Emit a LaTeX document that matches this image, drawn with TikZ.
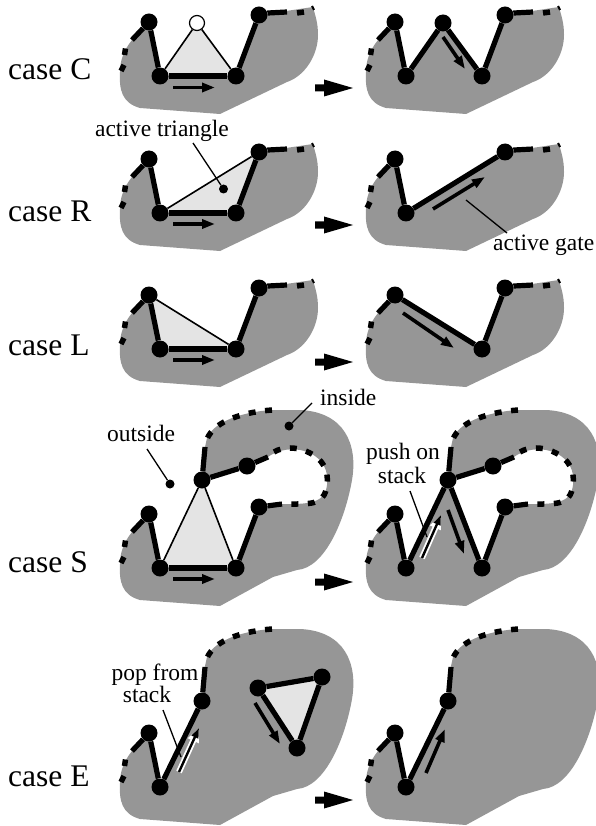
\documentclass[tikz,border=0pt]{standalone}
\usepackage{fontspec}
\setmainfont{Liberation Serif}
\usetikzlibrary{arrows.meta}
\definecolor{body}{HTML}{969696}
\definecolor{active}{HTML}{E4E4E4}
\tikzset{
  vert/.style={circle,fill=black,inner sep=0pt,minimum size=17pt},
  opent/.style={circle,draw=black,fill=white,line width=1.2pt,inner sep=0pt,minimum size=15pt},
  dotn/.style={circle,fill=black,inner sep=0pt,minimum size=9pt},
  edge/.style={line width=5.2pt},
  thinedge/.style={line width=1.6pt},
  bound/.style={line width=5.5pt},
  gate/.style={line width=3.6pt,-{Triangle[length=13pt,width=9pt]}},
  stackarrow/.style={line width=6pt,white,-{Triangle[length=14pt,width=11pt]}},
  leader/.style={line width=1.3pt},
  caselab/.style={anchor=base west,font=\fontsize{31.5}{32}\selectfont,inner sep=0pt},
  lab/.style={font=\fontsize{23.5}{25}\selectfont,inner sep=0pt},
}
% grey region helpers, in the local frame of a panel
\newcommand{\leftpart}{(149,22) -- (132,40) .. controls (124,50) and (120,60) .. (120,72) .. controls (119,90) and (122,103) .. (140,108) -- (220,114)}
\newcommand{\smallblob}[1]{\fill[body] \leftpart -- (287,82) .. controls (305,76) and (318,55) .. (318,35) .. controls (318,22) and (315,15) .. (313,7) -- (259,15) -- #1 -- cycle;}
\newcommand{\bigouter}{\leftpart -- (273,85) -- (297,78) .. controls (325,76) and (345,28) .. (352,-12) .. controls (358,-47) and (345,-80) .. (300,-82) -- (271,-82) .. controls (245,-80) and (215,-72) .. (207,-54) -- (205,-45)}
\newcommand{\holepath}{(268,-35) .. controls (280,-44) and (300,-46) .. (315,-36) .. controls (325,-29) and (330,-17) .. (326,-2) .. controls (322,13) and (300,12) .. (282,12)}
\newcommand{\basepts}{%
  \node[vert] (TL) at (149,22) {};
  \coordinate (Lend) at (132,40);
  \draw[edge] (TL) -- (Lend);
  \draw[bound] (125.5,48.5) -- (124.5,55) (124,65) -- (121,71);
}
\newcommand{\toppts}{%
  \node[vert] (TR) at (259,15) {};
  \coordinate (Tend) at (287,12);
  \draw[edge] (TR) -- (268,13) -- (Tend);
  \draw[bound] (297,13) -- (304,12);
  \draw[line width=2pt] (312,6) -- (314,10);
}
\newcommand{\bigdash}{%
  \draw[bound,dash pattern=on 7pt off 9.5pt] (272,-82) .. controls (245,-80) and (215,-72) .. (207,-53);
}
\newcommand{\holedash}{%
  \node[vert] (TR) at (259,15) {};
  \node[vert] (M) at (247,-26) {};
  \coordinate (Hs) at (268,-35);
  \coordinate (He) at (282,12);
  \draw[edge] (M) -- (Hs);
  \draw[edge] (TR) -- (He);
  \draw[bound,dash pattern=on 7pt off 9.5pt] (274,-40) .. controls (284,-46) and (300,-46) .. (315,-36) .. controls (325,-29) and (330,-17) .. (326,-2) .. controls (322,13) and (310,12) .. (285,12);
}
\newcommand{\bigarrow}[1]{\fill (315,#1-3.5) -- (324,#1-3.5) -- (324,#1-8.5) -- (353,#1) -- (324,#1+8.5) -- (324,#1+3.5) -- (315,#1+3.5) -- cycle;}
\begin{document}
\begin{tikzpicture}[x=1pt,y=-1pt]
\useasboundingbox (0,0) rectangle (596,826);

%% case C
\node[caselab] (lc) at (8,80) {case C};
\begin{scope}
  \smallblob{(236,76) -- (160,76)}
  \fill[active] (160,76) -- (236,76) -- (197,23) -- cycle;
  \basepts \toppts
  \node[vert] (A) at (160,76) {};
  \node[vert] (B) at (236,76) {};
  \node[opent] (O) at (197,23) {};
  \draw[thinedge] (A) -- (O) (B) -- (O);
  \draw[edge] (TL) -- (A); \draw[edge] (A) -- (B); \draw[edge] (B) -- (TR);
  \coordinate (g1) at (173,87.5); \coordinate (g2) at (215,87.5);
  \draw[gate] (g1) -- (g2);
\end{scope}
\bigarrow{88}
\begin{scope}[shift={(246,0)}]
  \smallblob{(236,76) -- (197,23) -- (160,76)}
  \basepts \toppts
  \node[vert] (A) at (160,76) {};
  \node[vert] (B) at (236,76) {};
  \node[vert] (O) at (197,23) {};
  \draw[edge] (TL) -- (A); \draw[edge] (A) -- (O); \draw[edge] (O) -- (B); \draw[edge] (B) -- (TR);
  \coordinate (g1) at (197,37); \coordinate (g2) at (219,69);
  \draw[gate] (g1) -- (g2);
\end{scope}

%% case R
\node[caselab] (lr) at (8,222) {case R};
\begin{scope}[shift={(0,137)}]
  \smallblob{(236,76) -- (160,76)}
  \fill[active] (160,76) -- (236,76) -- (259,15) -- cycle;
  \basepts \toppts
  \node[vert] (A) at (160,76) {};
  \node[vert] (B) at (236,76) {};
  \draw[thinedge] (A) -- (TR);
  \draw[edge] (TL) -- (A); \draw[edge] (A) -- (B); \draw[edge] (B) -- (TR);
  \coordinate (g1) at (173,87); \coordinate (g2) at (215,87);
  \draw[gate] (g1) -- (g2);
\end{scope}
\node[lab,anchor=base] (at) at (162,137) {active triangle};
\coordinate (atl) at (193,143);
\node[dotn] (atd) at (223.5,189) {};
\draw[leader] (atl) -- (atd);
\bigarrow{225}
\begin{scope}[shift={(246,137)}]
  \smallblob{(160,76)}
  \basepts \toppts
  \node[vert] (A) at (160,76) {};
  \draw[edge] (TL) -- (A); \draw[edge] (A) -- (TR);
  \coordinate (g1) at (187,72); \coordinate (g2) at (239,40);
  \draw[gate] (g1) -- (g2);
\end{scope}
\node[lab,anchor=base west] (ag) at (493,250) {active gate};
\coordinate (agl) at (466,200); \coordinate (agr) at (507,233);
\draw[leader] (agl) -- (agr);

%% case L
\node[caselab] (ll) at (8,355) {case L};
\begin{scope}[shift={(0,273)}]
  \smallblob{(236,76) -- (160,76)}
  \fill[active] (149,22) -- (160,76) -- (236,76) -- cycle;
  \basepts \toppts
  \node[vert] (A) at (160,76) {};
  \node[vert] (B) at (236,76) {};
  \draw[thinedge] (TL) -- (B);
  \draw[edge] (TL) -- (A); \draw[edge] (A) -- (B); \draw[edge] (B) -- (TR);
  \coordinate (g1) at (173,87); \coordinate (g2) at (215,87);
  \draw[gate] (g1) -- (g2);
\end{scope}
\bigarrow{362}
\begin{scope}[shift={(246,273)}]
  \smallblob{(236,76)}
  \basepts \toppts
  \node[vert] (B) at (236,76) {};
  \draw[edge] (TL) -- (B); \draw[edge] (B) -- (TR);
  \coordinate (g1) at (157,40); \coordinate (g2) at (208,75);
  \draw[gate] (g1) -- (g2);
\end{scope}

%% case S
\node[caselab] (ls) at (8,572) {case S};
\begin{scope}[shift={(0,492)}]
  \fill[body] \bigouter -- (202,-12) -- \holepath -- (259,15) -- (236,76) -- (160,76) -- (149,22) -- cycle;
  \fill[active] (160,76) -- (236,76) -- (202,-12) -- cycle;
  \basepts \bigdash \holedash
  \node[vert] (A) at (160,76) {};
  \node[vert] (B) at (236,76) {};
  \node[vert] (X) at (202,-12) {};
  \coordinate (Xup) at (205,-45);
  \draw[thinedge] (A) -- (X) (B) -- (X);
  \draw[edge] (X) -- (Xup); \draw[edge] (X) -- (M);
  \draw[edge] (TL) -- (A); \draw[edge] (A) -- (B); \draw[edge] (B) -- (TR);
  \coordinate (g1) at (173,87); \coordinate (g2) at (215,87);
  \draw[gate] (g1) -- (g2);
\end{scope}
\node[lab,anchor=base west] (ins) at (320,405) {inside};
\coordinate (insl) at (312,403);
\node[dotn] (insd) at (289,426) {};
\draw[leader] (insl) -- (insd);
\node[lab,anchor=base west] (out) at (107,441) {outside};
\coordinate (outl) at (147,449);
\node[dotn] (outd) at (170,484) {};
\draw[leader] (outl) -- (outd);
\bigarrow{582}
\begin{scope}[shift={(246,492)}]
  \fill[body] \bigouter -- (202,-12) -- \holepath -- (259,15) -- (236,76) -- (202,-12) -- (160,76) -- (149,22) -- cycle;
  \basepts \bigdash \holedash
  \node[vert] (A) at (160,76) {};
  \node[vert] (B) at (236,76) {};
  \node[vert] (X) at (202,-12) {};
  \coordinate (Xup) at (205,-45);
  \draw[edge] (X) -- (Xup); \draw[edge] (X) -- (M);
  \draw[edge] (TL) -- (A); \draw[edge] (A) -- (X); \draw[edge] (X) -- (B); \draw[edge] (B) -- (TR);
  \coordinate (g1) at (202,18); \coordinate (g2) at (218,62);
  \draw[gate] (g1) -- (g2);
  \coordinate (p1) at (176,66); \coordinate (p2) at (195,23);
  \draw[stackarrow] (p1) -- (p2);
  \draw[line width=2.4pt,-{Triangle[length=10pt,width=7pt]}] (p1) -- (p2);
\end{scope}
\node[lab,align=center,anchor=base] (push) at (403,459) {push on};
\node[lab,anchor=base] (push2) at (402,483) {stack};
\coordinate (pl1) at (410,491); \coordinate (pl2) at (427,537);
\draw[leader] (pl1) -- (pl2);

%% case E
\node[caselab] (le) at (8,786) {case E};
\begin{scope}[shift={(0,711)}]
  \fill[body] \bigouter -- (202,-10) -- (160,76) -- (149,22) -- cycle;
  \basepts \bigdash
  \node[vert] (A) at (160,76) {};
  \node[vert] (X) at (202,-10) {};
  \coordinate (Xup) at (205,-44);
  \draw[edge] (X) -- (Xup);
  \draw[edge] (TL) -- (A); \draw[edge] (A) -- (X);
  \coordinate (p1) at (179,61); \coordinate (p2) at (199,17);
  \draw[stackarrow] (p1) -- (p2);
  \draw[line width=2.4pt,-{Triangle[length=10pt,width=7pt]}] (p1) -- (p2);
  \fill[active] (258,-23) -- (322,-34) -- (297,37) -- cycle;
  \node[vert] (T1) at (258,-23) {};
  \node[vert] (T2) at (322,-34) {};
  \node[vert] (T3) at (297,37) {};
  \draw[edge] (T1) -- (T2); \draw[edge] (T2) -- (T3); \draw[edge] (T3) -- (T1);
  \coordinate (g1) at (255,-8); \coordinate (g2) at (280,33);
  \draw[gate] (g1) -- (g2);
\end{scope}
\node[lab,anchor=base] (pop) at (155,680) {pop from};
\node[lab,anchor=base] (pop2) at (147,702) {stack};
\coordinate (ol1) at (163,710); \coordinate (ol2) at (181,757);
\draw[leader] (ol1) -- (ol2);
\bigarrow{800}
\begin{scope}[shift={(246,711)}]
  \fill[body] \bigouter -- (202,-10) -- (160,76) -- (149,22) -- cycle;
  \basepts \bigdash
  \node[vert] (A) at (160,76) {};
  \node[vert] (X) at (202,-10) {};
  \coordinate (Xup) at (205,-44);
  \draw[edge] (X) -- (Xup);
  \draw[edge] (TL) -- (A); \draw[edge] (A) -- (X);
  \coordinate (g1) at (180,62); \coordinate (g2) at (199,18);
  \draw[gate] (g1) -- (g2);
\end{scope}
\end{tikzpicture}
\end{document}
